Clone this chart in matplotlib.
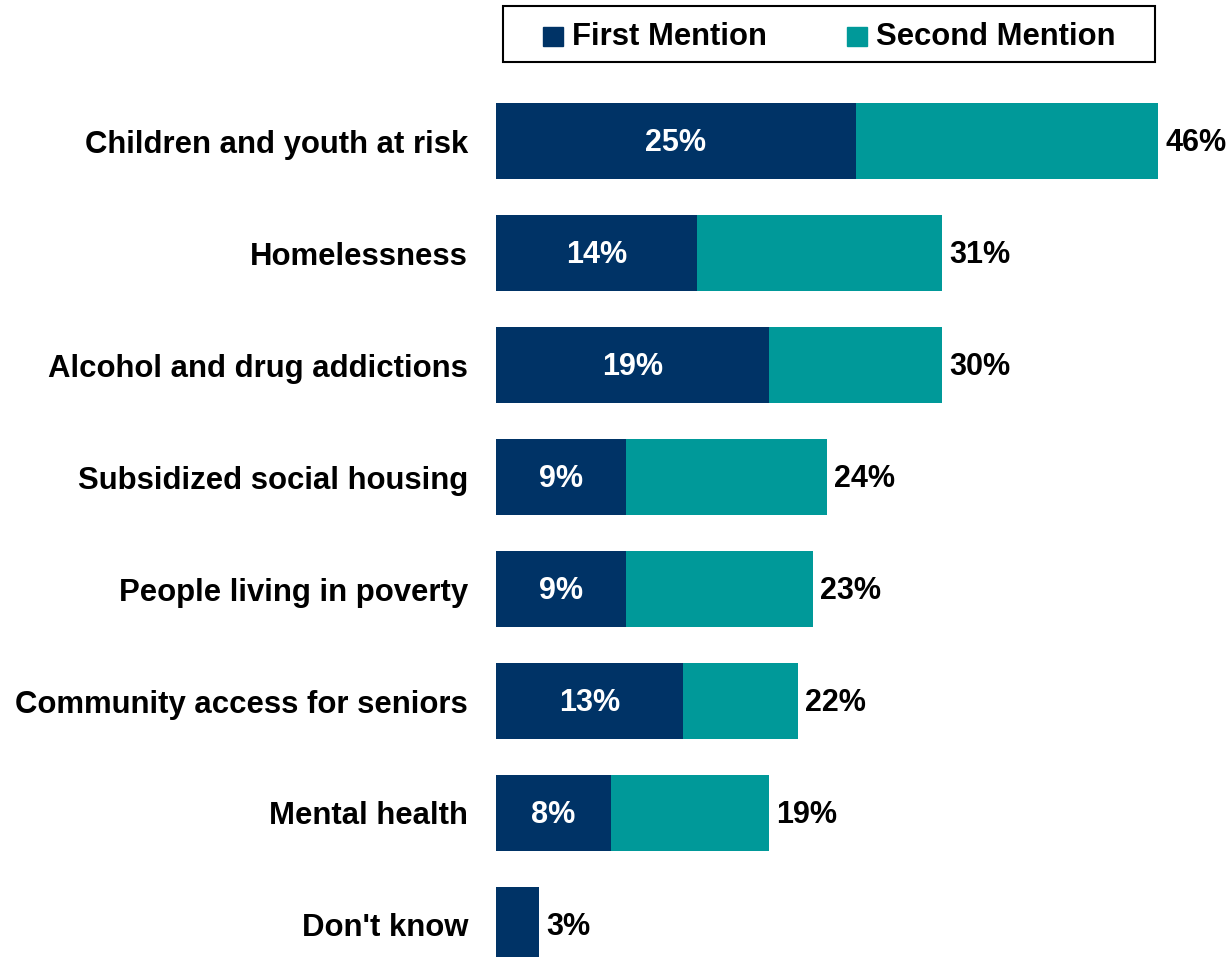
import matplotlib.pyplot as plt
from matplotlib.patches import Rectangle

plt.rcParams['font.family'] = ['Liberation Sans', 'DejaVu Sans']
plt.rcParams['font.weight'] = 'bold'

# data
categories = ['Children and youth at risk', 'Homelessness', 'Alcohol and drug addictions',
              'Subsidized social housing', 'People living in poverty',
              'Community access for seniors', 'Mental health', "Don't know"]
first_mention = [25, 14, 19, 9, 9, 13, 8, 3]
second_mention = [21, 17, 12, 14, 13, 8, 11, 0]
total_labels = ['46%', '31%', '30%', '24%', '23%', '22%', '19%', '3%']
series_names = ['First Mention', 'Second Mention']

navy = '#003366'
teal = '#009999'

fig = plt.figure(figsize=(12.31, 9.57), dpi=100)
ax = fig.add_axes([496 / 1231, 0, 735 / 1231, 1])

y = list(range(len(categories)))
ax.barh(y, first_mention, height=0.67, color=navy)
ax.barh(y, second_mention, left=first_mention, height=0.67, color=teal)

for i in y:
    if categories[i] != "Don't know":
        ax.text(first_mention[i] / 2, i + 0.015, f'{first_mention[i]}%', color='white',
                ha='center', va='center', fontsize=22, fontweight='bold')
    end = first_mention[i] + second_mention[i]
    ax.text(end + 0.5, i + 0.02, total_labels[i], color='black', ha='left', va='center',
            fontsize=22, fontweight='bold')

ax.set_xlim(0, 735 / 14.39)
ax.set_ylim((957 - 141) / 112, -141 / 112)
ax.set_yticks(y)
ax.set_yticklabels(categories, fontsize=22.4, fontweight='bold')
ax.tick_params(axis='y', length=0, pad=20)
ax.set_xticks([])
for s in ax.spines.values():
    s.set_visible(False)

# legend box drawn in pixel space
lax = fig.add_axes([0, 0, 1, 1], zorder=5)
lax.set_xlim(0, 1231)
lax.set_ylim(957, 0)
lax.axis('off')
lax.add_patch(Rectangle((503, 6), 652, 56, fill=False, edgecolor='black', linewidth=1.5))
for x0, name, col in [(543, series_names[0], navy), (847, series_names[1], teal)]:
    lax.add_patch(Rectangle((x0, 27), 20, 19, color=col))
    lax.text(x0 + 29, 37, name, fontsize=22.3, fontweight='bold', va='center', ha='left')

fig.savefig('out.png', dpi=100)
